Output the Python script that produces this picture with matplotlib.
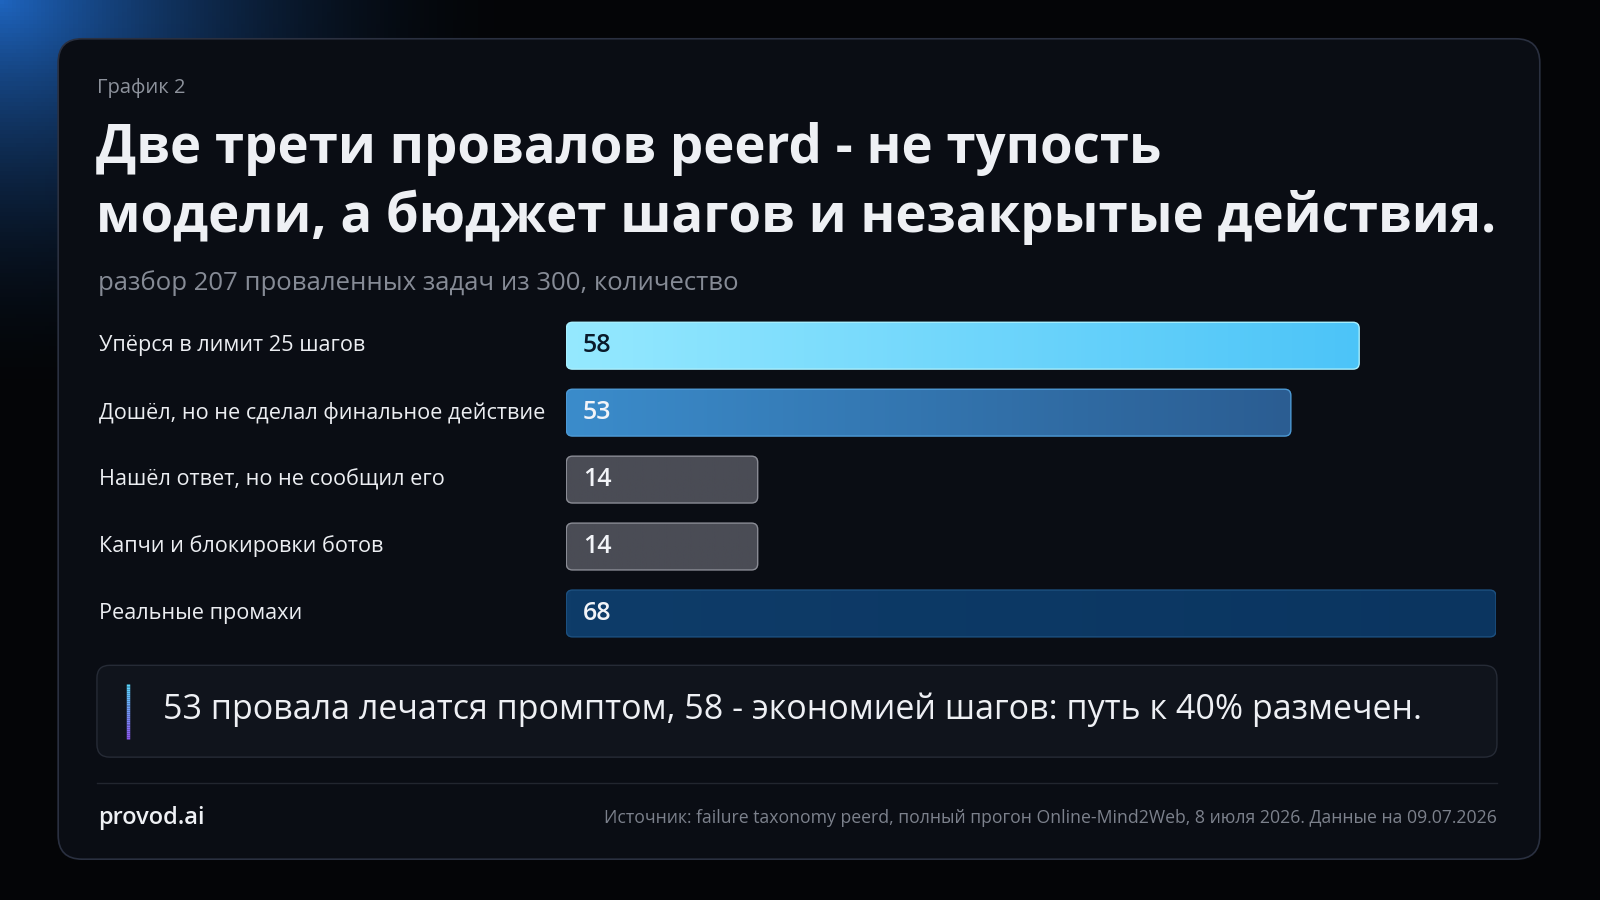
import numpy as np
import matplotlib
matplotlib.use("Agg")
import matplotlib.pyplot as plt
from matplotlib.patches import FancyBboxPatch
import matplotlib.transforms as mtrans

plt.rcParams['font.family'] = ['Open Sans', 'Noto Sans', 'DejaVu Sans']

categories = ["Упёрся в лимит 25 шагов", "Дошёл, но не сделал финальное действие",
              "Нашёл ответ, но не сообщил его", "Капчи и блокировки ботов", "Реальные промахи"]
values = [58, 53, 14, 14, 68]
bar_colors = [("#95e9ff", "#4cc4f8"), ("#3b8ccb", "#2b5d92"), ("#4a4c55", "#4a4c55"),
              ("#4a4c55", "#4a4c55"), ("#0e3c69", "#0b3560")]
edge_colors = ["#a8f0ff", "#4d9ad6", "#8a8c95", "#8a8c95", "#1c5080"]

W, H = 1568, 882
def fx(x): return x / W
def fy(y): return 1 - y / H

fig = plt.figure(figsize=(16, 9), dpi=100)
fig.patch.set_facecolor("#040507")

bg = fig.add_axes([0, 0, 1, 1]); bg.set_axis_off()
yy, xx = np.mgrid[0:H:4, 0:W:4]
d = np.sqrt((xx / 1.0) ** 2 + (yy * 1.3) ** 2)
g = np.clip(1 - d / 520, 0, 1) ** 2
img = np.zeros(xx.shape + (3,))
base = np.array([4, 5, 7]) / 255
glow = np.array([30, 100, 190]) / 255
img[:] = base + g[..., None] * (glow - base)
bg.imshow(img, extent=[0, 1, 0, 1], aspect='auto', zorder=0)
bg.set_xlim(0, 1); bg.set_ylim(0, 1)

card = FancyBboxPatch((fx(57), fy(842)), fx(1509) - fx(57), fy(38) - fy(842),
                      boxstyle="round,pad=0,rounding_size=0.015", transform=fig.transFigure,
                      facecolor="#0a0d14", edgecolor="#2a3040", lw=1.2, zorder=1,
                      mutation_aspect=16/9)
bg.add_patch(card)

fig.text(fx(95), fy(86), "График 2", color="#8d929c", fontsize=14.5, va="center")
fig.text(fx(94), fy(146), "Две трети провалов peerd - не тупость", color="#eef0f4",
         fontsize=38, fontweight="bold", va="center")
fig.text(fx(94), fy(213), "модели, а бюджет шагов и незакрытые действия.", color="#eef0f4",
         fontsize=38, fontweight="bold", va="center")
fig.text(fx(96), fy(277), "разбор 207 проваленных задач из 300, количество", color="#868b96",
         fontsize=18.5, va="center")

ax = fig.add_axes([fx(555), fy(634), fx(1466) - fx(555), fy(306) - fy(634)])
ax.set_axis_off()
ax.set_xlim(0, 68); ax.set_ylim(4.5, -0.5)
asp = (1 / 65.5) / (68 / 911)
trans = mtrans.blended_transform_factory(fig.transFigure, ax.transData)
for i, (c, v) in enumerate(zip(categories, values)):
    h = 0.70
    p = FancyBboxPatch((0, i - h / 2), v, h, boxstyle="round,pad=0,rounding_size=0.45",
                       mutation_aspect=asp, facecolor="none", edgecolor=edge_colors[i],
                       lw=1.0, zorder=3)
    ax.add_patch(p)
    c1, c2 = [np.array(matplotlib.colors.to_rgb(k)) for k in bar_colors[i]]
    t = np.linspace(0, 1, 200)[None, :, None]
    grad = c1 + t * (c2 - c1)
    im = ax.imshow(grad, extent=[0, v, i + h / 2, i - h / 2], aspect='auto', zorder=2)
    im.set_clip_path(p)
    ax.text(1.2, i, str(v), color="#0a1a2a" if i == 0 else "#f2f4f8", fontsize=18,
            fontweight="semibold", va="center", ha="left", zorder=4)
    ax.text(fx(97), i, c, transform=trans, color="#eceef2", fontsize=15.6, va="center", ha="left")
ax.set_xlim(0, 68); ax.set_ylim(4.5, -0.5)

cb = FancyBboxPatch((fx(95), fy(742)), fx(1467) - fx(95), fy(652) - fy(742),
                    boxstyle="round,pad=0,rounding_size=0.008", transform=fig.transFigure,
                    facecolor="#10141c", edgecolor="#262b36", lw=1.0, zorder=2,
                    mutation_aspect=16/9)
bg.add_patch(cb)
ys = np.linspace(fy(670), fy(724), 30)
cols = np.linspace([0.35, 0.85, 1.0], [0.55, 0.35, 0.95], 29)
for k in range(29):
    bg.plot([fx(125), fx(125)], [ys[k], ys[k + 1]], color=cols[k], lw=2.5,
            solid_capstyle='butt', zorder=3)
fig.text(fx(160), fy(696), "53 провала лечатся промптом, 58 - экономией шагов: путь к 40% размечен.",
         color="#eef0f4", fontsize=24.5, fontweight="medium", va="center")

bg.plot([fx(95), fx(1467)], [fy(767), fy(767)], color="#22262f", lw=1, zorder=3)
fig.text(fx(96), fy(802), "provod.ai", color="#eef0f4", fontsize=17, fontweight="semibold", va="center")
fig.text(fx(1467), fy(802), "Источник: failure taxonomy peerd, полный прогон Online-Mind2Web, 8 июля 2026. Данные на 09.07.2026",
         color="#7c818c", fontsize=12.7, va="center", ha="right")

fig.savefig("out.png", dpi=100, facecolor=fig.get_facecolor())
